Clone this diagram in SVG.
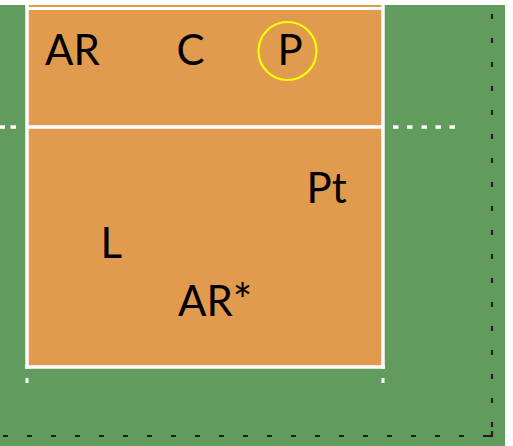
<svg xmlns="http://www.w3.org/2000/svg" width="513" height="446" viewBox="0 0 513 446">
  <style>
    .lbl { font-family: Lato, "Open Sans", "Liberation Sans", sans-serif; font-size: 42px; fill: #000000; }
    .wline { stroke: #FFFFFF; fill: none; }
    .wdash { fill: #FFFFFF; }
    .bdash { stroke: #1E1E1E; stroke-width: 2.2; fill: none; }
  </style>
  <rect x="0" y="0" width="513" height="446" fill="#FFFFFF"/>
  <rect x="0" y="5" width="505" height="441" fill="#629B5E"/>
  <g id="court">
    <rect x="27" y="5" width="356" height="362" fill="#E19B4F"/>
    <line class="wline" x1="27" y1="0" x2="27" y2="369" stroke-width="3.5"/>
    <line class="wline" x1="383" y1="0" x2="383" y2="369" stroke-width="3.5"/>
    <line class="wline" x1="25" y1="367" x2="385" y2="367" stroke-width="3.5"/>
    <line class="wline" x1="27" y1="8.5" x2="383" y2="8.5" stroke-width="3"/>
    <line class="wline" x1="27" y1="127" x2="383" y2="127" stroke-width="3.5"/>
    <rect class="wdash" x="25.5" y="378" width="3" height="5"/>
    <rect class="wdash" x="381.5" y="378" width="3" height="5"/>
  </g>
  <g id="net-dashes">
    <rect class="wdash" x="0" y="125.3" width="5" height="3.5"/>
    <rect class="wdash" x="10.5" y="125.3" width="5.5" height="3.5"/>
    <rect class="wdash" x="393" y="125.3" width="5.5" height="3.5"/>
    <rect class="wdash" x="407" y="125.3" width="5.5" height="3.5"/>
    <rect class="wdash" x="421.5" y="125.3" width="5.5" height="3.5"/>
    <rect class="wdash" x="435.5" y="125.3" width="5.5" height="3.5"/>
    <rect class="wdash" x="449.5" y="125.3" width="5.5" height="3.5"/>
  </g>
  <g id="boundary">
    <line class="bdash" x1="3" y1="436" x2="478" y2="436" stroke-dasharray="5 19"/>
    <line class="bdash" x1="492" y1="14" x2="492" y2="427" stroke-dasharray="5 19"/>
    <path class="bdash" d="M483,436 H492 V431"/>
  </g>
  <g id="node-AR"><text class="lbl" x="45" y="65">AR</text></g>
  <g id="node-C"><text class="lbl" x="176.5" y="65">C</text></g>
  <g id="node-P">
    <circle cx="287.5" cy="51" r="29" fill="none" stroke="#FFFF00" stroke-width="2.2"/>
    <text class="lbl" x="277.5" y="65">P</text>
  </g>
  <g id="node-Pt"><text class="lbl" x="306.5" y="203">Pt</text></g>
  <g id="node-L"><text class="lbl" x="100.5" y="258">L</text></g>
  <g id="node-ARstar"><text class="lbl" x="178" y="316">AR<tspan font-size="46" dy="1">*</tspan></text></g>
</svg>
